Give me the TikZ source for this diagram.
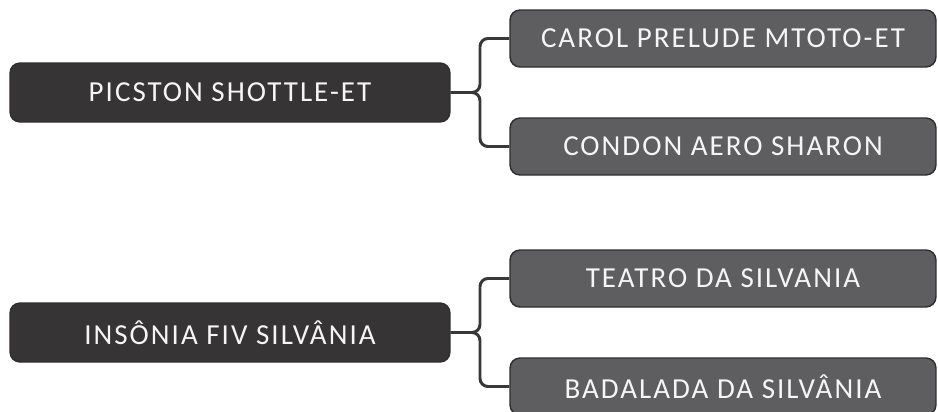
\documentclass[tikz,border=0pt]{standalone}
\usepackage{fontspec}
\setmainfont{Carlito}[LetterSpace=7]
\usetikzlibrary{shadows}

\definecolor{rootfill}{HTML}{363435}
\definecolor{leaffill}{HTML}{5E5E60}
\definecolor{boxedge}{HTML}{2E2E2E}
\definecolor{branchgray}{HTML}{383838}

\tikzset{
	nodebox/.style={draw=boxedge, line width=0.8pt, rounded corners=0.2cm, text=white!96!black, inner sep=0pt,
		font=\fontsize{16.5}{18}\selectfont, drop shadow={opacity=0.12, shadow xshift=0pt, shadow yshift=-0.6pt}},
	rootbox/.style={nodebox, fill=rootfill, minimum width=8.8cm, minimum height=1.18cm},
	leafbox/.style={nodebox, fill=leaffill, minimum width=8.52cm, minimum height=1.14cm},
	branch/.style={draw=branchgray, line width=1.7pt, rounded corners=0.16cm}
}

\begin{document}
\begin{tikzpicture}[x=0.02cm, y=-0.02cm]
	\path[use as bounding box, clip] (0,0) rectangle (938,412);
	\node[rootbox] (picston)  at (230, 92.5)  {PICSTON SHOTTLE-ET};
	\node[leafbox] (carol)    at (723, 38.5)  {CAROL PRELUDE MTOTO-ET};
	\node[leafbox] (condon)   at (723, 146.5) {CONDON AERO SHARON};
	\node[rootbox] (insonia)  at (230, 332.5) {INSÔNIA FIV SILVÂNIA};
	\node[leafbox] (teatro)   at (723, 278.5) {TEATRO DA SILVANIA};
	\node[leafbox] (badalada) at (723, 386.5) {BADALADA DA SILVÂNIA};
	\coordinate (picston-fork) at (480, 92.5);
	\coordinate (insonia-fork) at (480, 332.5);
	\draw[branch] (picston.east) -- (picston-fork) |- (carol.west);
	\draw[branch] (picston.east) -- (picston-fork) |- (condon.west);
	\draw[branch] (insonia.east) -- (insonia-fork) |- (teatro.west);
	\draw[branch] (insonia.east) -- (insonia-fork) |- (badalada.west);
\end{tikzpicture}
\end{document}
